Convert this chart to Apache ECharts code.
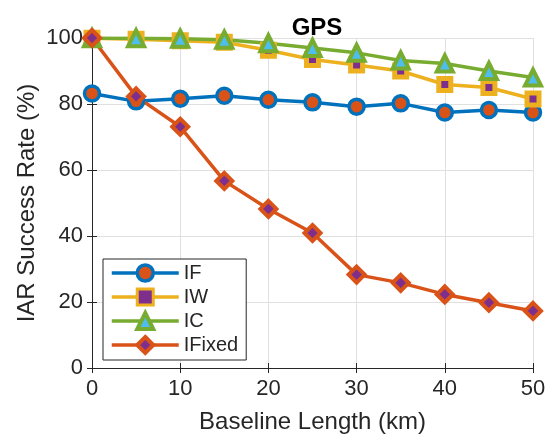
<!DOCTYPE html>
<html>
<head>
<meta charset="utf-8">
<script src="https://cdn.jsdelivr.net/npm/echarts@6/dist/echarts.min.js"></script>
<style>
    html, body { margin: 0; padding: 0; background: #fff; }
    #chart_gps { width: 546px; height: 434px; }
</style>
</head>
<body>
<div id="chart_gps"></div>
<script>
var baseline = [0, 5, 10, 15, 20, 25, 30, 35, 40, 45, 50];
var ifData = [83.2, 80.8, 81.6, 82.5, 81.3, 80.5, 79.2, 80.2, 77.4, 78.2, 77.4];
var iwData = [99.9, 99.6, 99.2, 98.7, 96.3, 93.5, 91.8, 90.0, 85.9, 85.0, 81.5];
var icData = [99.9, 99.9, 99.8, 99.5, 98.4, 97.0, 95.5, 93.2, 92.3, 90.0, 88.0];
var ifixedData = [100, 82.3, 73.1, 56.7, 48.2, 40.9, 28.3, 25.8, 22.3, 19.8, 17.3];
var seriesNames = ['IF', 'IW', 'IC', 'IFixed'];

var textColor = '#262626';
var fontName = 'Liberation Sans';

function pairUp(ys) {
    var out = [];
    for (var i = 0; i < baseline.length; i++) {
        out.push([baseline[i], ys[i]]);
    }
    return out;
}

// matlab style marker: line colour as edge, second colour as face
function makeSeries(name, data, symbol, size, lineColor, faceColor, border) {
    return {
        name: name,
        type: 'line',
        data: pairUp(data),
        symbol: symbol,
        symbolSize: size,
        showAllSymbol: true,
        lineStyle: { color: lineColor, width: 3.5 },
        itemStyle: { color: faceColor, borderColor: lineColor, borderWidth: border },
        emphasis: { disabled: true },
        animation: false
    };
}

function legendItem(name, lineColor, faceColor, border) {
    return {
        name: name,
        itemStyle: { color: faceColor, borderColor: lineColor, borderWidth: border },
        lineStyle: { color: lineColor, width: 3.5 }
    };
}

var chart_gps = echarts.init(document.getElementById('chart_gps'));

var axisLineStyle = { lineStyle: { color: textColor, width: 1 } };
var tickStyle = { show: true, inside: true, length: 5, lineStyle: { color: textColor } };

var option = {
    backgroundColor: '#ffffff',
    animation: false,
    title: {
        text: 'GPS',
        left: 312,
        textAlign: 'center',
        top: 11,
        textStyle: { fontFamily: fontName, fontSize: 24, fontWeight: 'bold', color: '#000' }
    },
    grid: { left: 92, right: 13, top: 38, bottom: 66, outerBoundsMode: 'none' },
    legend: {
        orient: 'vertical',
        left: 103,
        top: 259,
        padding: [4, 8, 5, 7],
        itemWidth: 67,
        itemHeight: 20,
        itemGap: 4,
        backgroundColor: '#ffffff',
        borderColor: textColor,
        borderWidth: 1,
        borderRadius: 0,
        textStyle: { fontFamily: fontName, fontSize: 20, color: textColor },
        data: [
            legendItem('IF', '#0072BD', '#D95319', 3.5),
            legendItem('IW', '#EDB120', '#7E2F8E', 3),
            legendItem('IC', '#77AC30', '#4DBEEE', 4),
            legendItem('IFixed', '#D95319', '#7E2F8E', 4)
        ]
    },
    xAxis: [
        {
            type: 'value',
            min: 0,
            max: 50,
            interval: 10,
            name: 'Baseline Length (km)',
            nameLocation: 'middle',
            nameGap: 42,
            nameMoveOverlap: false,
            nameTextStyle: { fontFamily: fontName, fontSize: 24, color: textColor },
            axisLine: axisLineStyle,
            axisTick: tickStyle,
            axisLabel: { fontFamily: fontName, fontSize: 22, color: textColor, margin: 10 },
            splitLine: { show: true, lineStyle: { color: '#e0e0e0', width: 1 } }
        },
        {
            type: 'value',
            position: 'top',
            min: 0,
            max: 50,
            interval: 10,
            axisLine: axisLineStyle,
            axisTick: tickStyle,
            axisLabel: { show: false },
            splitLine: { show: false }
        }
    ],
    yAxis: [
        {
            type: 'value',
            min: 0,
            max: 100,
            interval: 20,
            name: 'IAR Success Rate (%)',
            nameLocation: 'middle',
            nameGap: 53,
            nameMoveOverlap: false,
            nameTextStyle: { fontFamily: fontName, fontSize: 24, color: textColor },
            axisLine: { show: true, lineStyle: { color: textColor, width: 1 } },
            axisTick: tickStyle,
            axisLabel: { fontFamily: fontName, fontSize: 22, color: textColor, margin: 9 },
            splitLine: { show: true, lineStyle: { color: '#e0e0e0', width: 1 } }
        },
        {
            type: 'value',
            position: 'right',
            min: 0,
            max: 100,
            interval: 20,
            axisLine: { show: true, lineStyle: { color: textColor, width: 1 } },
            axisTick: tickStyle,
            axisLabel: { show: false },
            splitLine: { show: false }
        }
    ],
    series: [
        makeSeries(seriesNames[0], ifData, 'circle', 15, '#0072BD', '#D95319', 3.5),
        makeSeries(seriesNames[1], iwData, 'rect', 12, '#EDB120', '#7E2F8E', 5),
        makeSeries(seriesNames[2], icData, 'triangle', 16, '#77AC30', '#4DBEEE', 4),
        makeSeries(seriesNames[3], ifixedData, 'diamond', 16, '#D95319', '#7E2F8E', 4)
    ]
};

chart_gps.setOption(option);
</script>
</body>
</html>
